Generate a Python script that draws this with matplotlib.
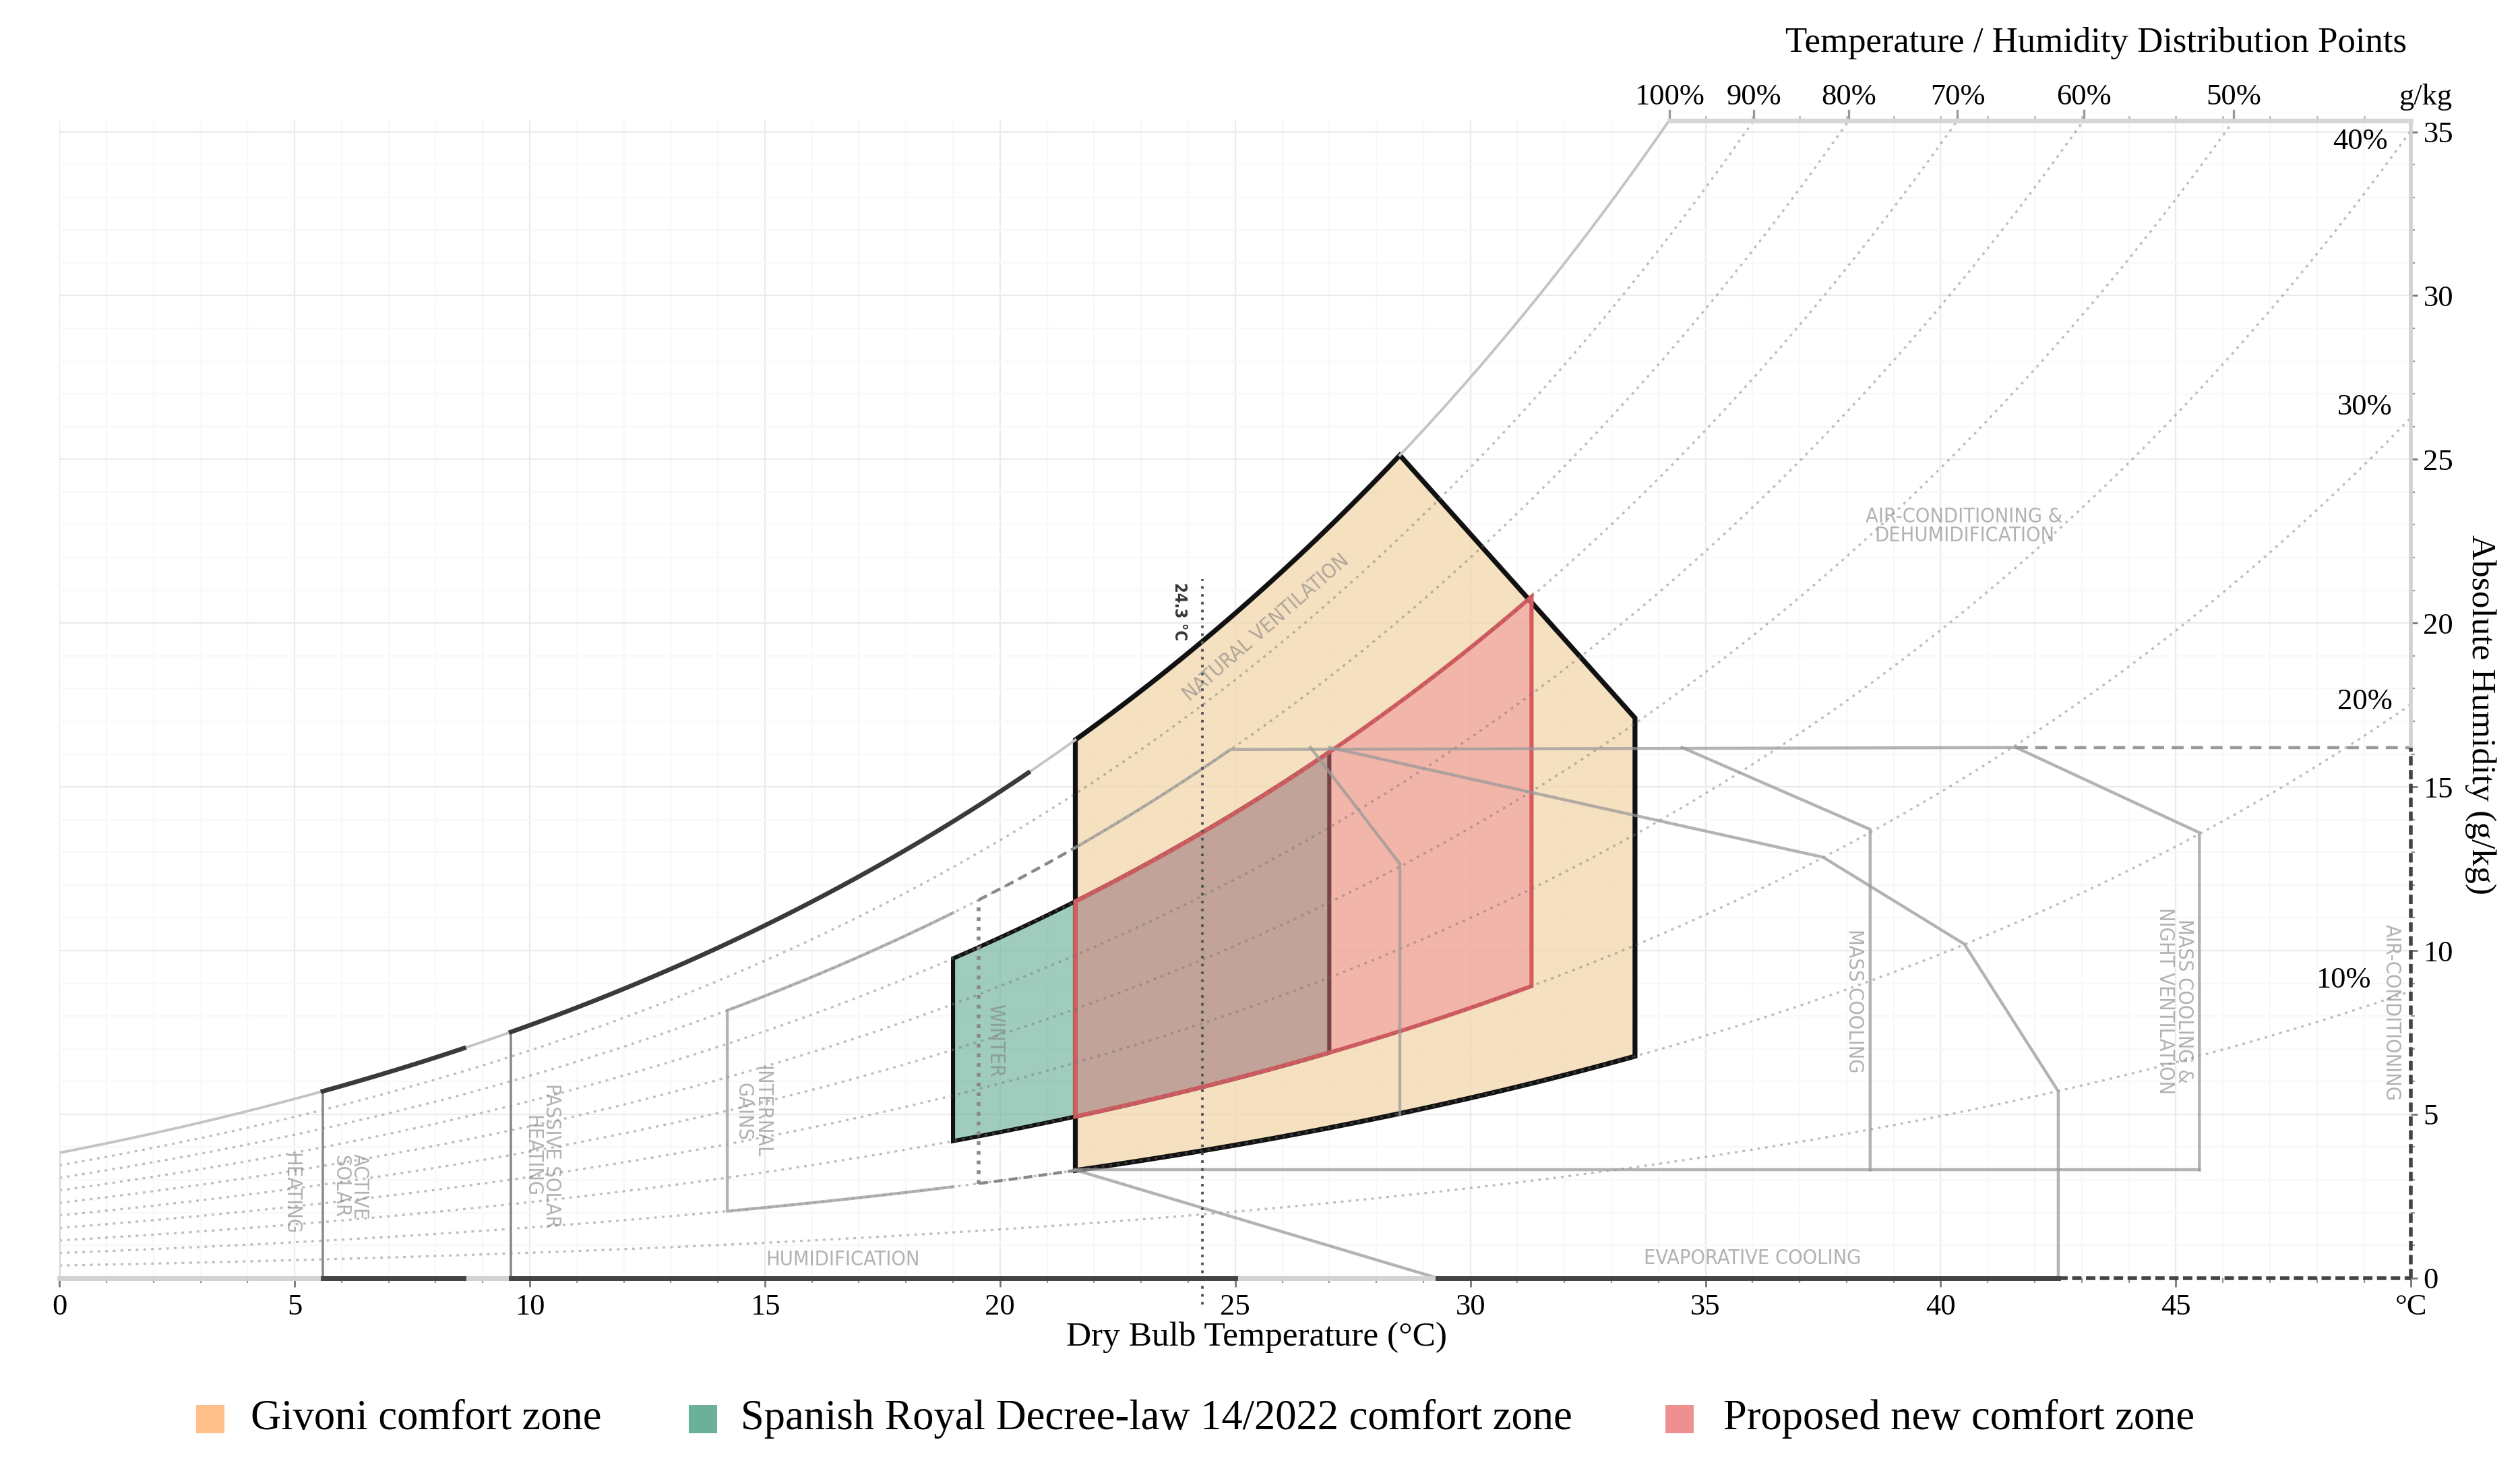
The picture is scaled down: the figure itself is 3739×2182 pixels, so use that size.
import numpy as np
import matplotlib.pyplot as plt
from matplotlib import font_manager
from matplotlib.patches import Polygon, Rectangle

# --- chart data -------------------------------------------------------------
PRESSURE = 1000.0          # hPa, used by the psychrometric scale
Y_TOP = 35.35

X_TICKS = [0, 5, 10, 15, 20, 25, 30, 35, 40, 45]
Y_TICKS = [0, 5, 10, 15, 20, 25, 30, 35]

RH_LINES = [10, 20, 30, 40, 50, 60, 70, 80, 90]
TOP_RH_LABELS = [100, 90, 80, 70, 60, 50]
SIDE_RH_LABELS = ['40%', '30%', '20%', '10%']
SIDE_RH_T = [49.5, 49.6, 49.6, 49.15]
SIDE_RH_W = [34.7, 26.6, 17.6, 9.1]

# comfort zones (temperature bounds in degC, relative humidity bounds in %)
GIVONI_T = [21.6, 28.5, 33.5]      # left edge, apex on saturation, right edge
GIVONI_RH = [20, 100]
GIVONI_RIGHT_W = 17.1
SPAIN_T = [19.0, 27.0]
SPAIN_RH = [30, 70]
PROPOSED_T = [21.6, 31.3]
PROPOSED_RH = [30, 70]
SETPOINT_T = 24.3
SETPOINT_W = [-0.8, 21.35]

# design strategy outlines
ACTIVE_SOLAR_T = [5.6, 8.6]
PASSIVE_SOLAR_T = [9.6, 20.6]
INTERNAL_T = [14.2, 19.0]
INTERNAL_DASH_T = [19.55, 21.6]
INTERNAL_RH = [20, 80]
W_CAP = 16.2
W_FLOOR = 3.3
NV_KNEE_T = 24.9
CAP_T = [24.9, 41.6]
CAP_DASH_T = [41.6, 50.0]
FLOOR_T = [21.6, 45.5]
NV_T, NV_W = [26.6, 28.5, 28.5], [16.2, 12.65, 5.0]
EVAP_T, EVAP_W = [27.0, 37.5, 40.5, 42.5, 42.5], [16.2, 12.85, 10.2, 5.7, 0.0]
WETBULB_T, WETBULB_W = [21.6, 29.3], [3.3, 0.0]
MASS_T, MASS_W = [34.5, 38.5, 38.5], [16.2, 13.7, 3.3]
NIGHT_T, NIGHT_W = [41.6, 45.5, 45.5], [16.2, 13.6, 3.3]
AXIS_DARK = [(5.6, 8.6), (9.6, 25.0), (29.3, 42.5)]

ZONE_TEXT = [
    ('HEATING', 4.93, 2.58, 270),
    ('ACTIVE\nSOLAR', 6.18, 2.8, 270),
    ('PASSIVE SOLAR\nHEATING', 10.26, 3.74, 270),
    ('INTERNAL\nGAINS', 14.74, 5.08, 270),
    ('WINTER', 19.89, 7.25, 270),
    ('HUMIDIFICATION', 16.65, 0.57, 0),
    ('EVAPORATIVE COOLING', 36.0, 0.6, 0),
    ('NATURAL VENTILATION', 25.65, 19.85, 41),
    ('AIR-CONDITIONING &\nDEHUMIDIFICATION', 40.5, 22.95, 0),
    ('MASS COOLING', 38.17, 8.46, 270),
    ('MASS COOLING &\nNIGHT VENTILATION', 44.97, 8.46, 270),
    ('AIR-CONDITIONING', 49.58, 8.1, 270),
]

LEGEND_LABELS = ['Givoni comfort zone', 'Spanish Royal Decree-law 14/2022 comfort zone',
                 'Proposed new comfort zone']
LEGEND_COLORS = ['#ffbf88', '#6bb09a', '#ee9090']


def sat_w(t):
    t = np.asarray(t, dtype=float)
    p = 6.112 * np.exp(17.62 * t / (243.12 + t))
    return 622.0 * p / (PRESSURE - p)


def rh_w(t, rh):
    return rh / 100.0 * sat_w(t)


def rh_edge(t0, t1, rh, n=60):
    t = np.linspace(t0, t1, n)
    return list(t), list(rh_w(t, rh))


def t_at_w(w, rh):
    tt = np.linspace(0, 60, 6001)
    return float(np.interp(w, rh_w(tt, rh), tt))


names = {f.name for f in font_manager.fontManager.ttflist}
narrow = 'Liberation Sans Narrow' if 'Liberation Sans Narrow' in names else 'DejaVu Sans'
zone_fs = 11.6 if narrow != 'DejaVu Sans' else 11.0
SERIF = ['Liberation Serif', 'DejaVu Serif']
plt.rcParams['font.family'] = SERIF

fig = plt.figure(figsize=(3739 / 200, 2182 / 200), dpi=200)
ax = fig.add_axes([88.2 / 3739, 1 - 1895.8 / 2182, (3577.3 - 88.2) / 3739, (1895.8 - 178.5) / 2182])
ax.set_xlim(0, 50)
ax.set_ylim(0, Y_TOP)
for s in ax.spines.values():
    s.set_visible(False)

# grid
for v in range(0, 51):
    ax.axvline(v, color='#ebebeb' if v % 5 == 0 else '#f8f8f8', lw=0.8, zorder=0.5)
for v in range(0, 36):
    ax.axhline(v, color='#ebebeb' if v % 5 == 0 else '#f8f8f8', lw=0.8, zorder=0.5)

# relative humidity curves
tt = np.linspace(0, 50, 500)
for rh in RH_LINES:
    ax.plot(tt, rh_w(tt, rh), color='#707070', alpha=0.45, lw=1.2,
            ls=(0, (1.2, 2.2)), zorder=4)
for a, b in [(0, GIVONI_T[0]), (GIVONI_T[1], 50)]:
    t, w = rh_edge(a, b, 100, n=300)
    ax.plot(t, w, color='#c4c4c4', lw=1.4, zorder=4)
for a, b in [ACTIVE_SOLAR_T, PASSIVE_SOLAR_T]:
    t, w = rh_edge(a, b, 100)
    ax.plot(t, w, color='#3a3a3a', lw=2.4, zorder=5)

# comfort zones
gx, gy = rh_edge(GIVONI_T[0], GIVONI_T[1], GIVONI_RH[1])
gx += [GIVONI_T[2], GIVONI_T[2]]
gy += [GIVONI_RIGHT_W, float(rh_w(GIVONI_T[2], GIVONI_RH[0]))]
bx, by = rh_edge(GIVONI_T[2], GIVONI_T[0], GIVONI_RH[0])
ax.add_patch(Polygon(np.column_stack([gx + bx, gy + by]), closed=True,
                     facecolor='#f2d5a8', alpha=0.72, edgecolor='none', zorder=1))
ax.add_patch(Polygon(np.column_stack([gx + bx, gy + by]), closed=True,
                     facecolor='none', edgecolor='#111111', lw=2.6, zorder=1.1))


def box_zone(trange, rhrange):
    x1, y1 = rh_edge(trange[0], trange[1], rhrange[0])
    x2, y2 = rh_edge(trange[1], trange[0], rhrange[1])
    return np.column_stack([x1 + x2, y1 + y2])


ax.add_patch(Polygon(box_zone(SPAIN_T, SPAIN_RH), closed=True, facecolor='#5fab91',
                     alpha=0.6, edgecolor='none', zorder=2))
ax.add_patch(Polygon(box_zone(SPAIN_T, SPAIN_RH), closed=True, facecolor='none',
                     edgecolor='#111111', lw=2.2, zorder=2.1))
ax.add_patch(Polygon(box_zone(PROPOSED_T, PROPOSED_RH), closed=True, facecolor='#f0818d',
                     alpha=0.45, edgecolor='none', zorder=3))
ax.add_patch(Polygon(box_zone(PROPOSED_T, PROPOSED_RH), closed=True, facecolor='none',
                     edgecolor='#d65a5e', lw=2.2, zorder=3.1))

# strategy outlines
gray = dict(color='#9a9a9a', alpha=0.75, lw=1.6, zorder=4.5)
ax.plot([0, 0], [0, float(sat_w(0))], color='#d4d4d4', lw=1.0, zorder=4)
for t in [ACTIVE_SOLAR_T[0], PASSIVE_SOLAR_T[0]]:
    ax.plot([t, t], [0, float(sat_w(t))], color='#8a8a8a', lw=1.3, zorder=4.5)
x1, y1 = rh_edge(INTERNAL_T[0], INTERNAL_T[1], INTERNAL_RH[1])
x2, y2 = rh_edge(INTERNAL_T[0], INTERNAL_T[1], INTERNAL_RH[0])
ax.plot(x1[::-1] + x2, y1[::-1] + y2, **gray)
for rh in INTERNAL_RH:
    t, w = rh_edge(INTERNAL_DASH_T[0], INTERNAL_DASH_T[1], rh)
    ax.plot(t, w, color='#888888', lw=1.6, ls=(0, (3, 2)), zorder=4.5)
ax.plot([INTERNAL_DASH_T[0]] * 2,
        [float(rh_w(INTERNAL_DASH_T[0], INTERNAL_RH[0])), float(rh_w(INTERNAL_DASH_T[0], INTERNAL_RH[1]))],
        color='#888888', lw=2.0, ls=(0, (1, 1.6)), zorder=4.5)
t, w = rh_edge(GIVONI_T[0], NV_KNEE_T, INTERNAL_RH[1])
ax.plot(t + CAP_T[1:], w + [W_CAP], **gray)
ax.plot(CAP_DASH_T, [W_CAP, W_CAP], color='#999999', lw=1.6, ls=(0, (4, 2.5)), zorder=4.5)
ax.plot(FLOOR_T, [W_FLOOR, W_FLOOR], **gray)
for xs, ys in [(NV_T, NV_W), (EVAP_T, EVAP_W), (WETBULB_T, WETBULB_W),
               (MASS_T, MASS_W), (NIGHT_T, NIGHT_W)]:
    ax.plot(xs, ys, **gray)

# set-point line
ax.plot([SETPOINT_T] * 2, SETPOINT_W, color='#555555', lw=1.4, ls=(0, (1, 2)),
        zorder=4.6, clip_on=False)
ax.text(23.82, 20.35, '24.3 °C', rotation=270, ha='center', va='center', fontsize=8.5,
        fontweight='bold', color='#333333', family=[narrow, 'DejaVu Sans'],
        fontstretch='condensed', zorder=6)

# frame lines
ax.plot([0, 42.5], [0, 0], color='#d2d2d2', lw=2.5, zorder=5, clip_on=False)
for a, b in AXIS_DARK:
    ax.plot([a, b], [0, 0], color='#444444', lw=2.5, zorder=5.1, clip_on=False)
ax.plot([42.5, 50], [0, 0], color='#444444', lw=2.0, ls=(0, (2.5, 1.2)), zorder=5.1, clip_on=False)
ax.plot([50, 50], [0, W_CAP], color='#444444', lw=2.0, ls=(0, (2.5, 1.2)), zorder=5.1, clip_on=False)
ax.plot([50, 50], [W_CAP, Y_TOP], color='#d2d2d2', lw=2.0, zorder=5, clip_on=False)
t100 = t_at_w(Y_TOP, 100)
ax.plot([t100, 50], [Y_TOP, Y_TOP], color='#d6d6d6', lw=2.5, zorder=5, clip_on=False)
for v in range(35, 50):
    ax.plot([v, v], [Y_TOP, Y_TOP + 0.12], color='#bdbdbd', lw=1, clip_on=False)
for rh in TOP_RH_LABELS:
    tx = t_at_w(Y_TOP, rh)
    ax.plot([tx, tx], [Y_TOP, Y_TOP + 0.3], color='#999999', lw=1.2, clip_on=False)
    ax.text(tx, 36.05, f'{rh}%', ha='center', va='center', fontsize=16)
ax.text(50.3, 36.05, 'g/kg', ha='center', va='center', fontsize=16)
for lab, tx, wy in zip(SIDE_RH_LABELS, SIDE_RH_T, SIDE_RH_W):
    ax.text(tx, wy, lab, ha='right', va='center', fontsize=16)

# ticks
ax.set_xticks(X_TICKS + [50])
ax.set_xticklabels([str(v) for v in X_TICKS] + ['°C'], fontsize=16)
ax.set_xticks(range(0, 51), minor=True)
ax.yaxis.tick_right()
ax.set_yticks(Y_TICKS)
ax.set_yticklabels([str(v) for v in Y_TICKS], fontsize=16)
ax.set_yticks(range(0, 36), minor=True)
ax.tick_params(axis='x', which='major', length=4.5, width=1, color='#777777', pad=4)
ax.tick_params(axis='x', which='minor', length=2.5, width=0.8, color='#999999')
ax.tick_params(axis='y', which='major', length=3.5, width=1, color='#777777', pad=3)
ax.tick_params(axis='y', which='minor', length=2, width=0.8, color='#999999')

ax.text(25.46, -1.82, 'Dry Bulb Temperature (°C)', ha='center', va='center', fontsize=18.5)
ax.text(51.47, 17.2, 'Absolute Humidity (g/kg)', ha='center', va='center', rotation=270,
        fontsize=18.5)
ax.text(43.3, 37.7, 'Temperature / Humidity Distribution Points', ha='center', va='center',
        fontsize=19)

for lab, tx, wy, rot in ZONE_TEXT:
    ax.text(tx, wy, lab, ha='center', va='center', rotation=rot, rotation_mode='anchor',
            fontsize=zone_fs, color='#7f7f7f', alpha=0.6, family=[narrow, 'DejaVu Sans'],
            fontstretch='condensed', linespacing=0.95, zorder=6)

# legend
for lab, col, mx, tx in zip(LEGEND_LABELS, LEGEND_COLORS, [312, 1043, 2492], [372, 1099, 2557]):
    fig.patches.append(Rectangle(((mx - 21) / 3739, (2182 - 2105 - 21) / 2182), 42 / 3739, 42 / 2182,
                                 transform=fig.transFigure, facecolor=col, edgecolor='none'))
    fig.text(tx / 3739, (2182 - 2105) / 2182, lab, ha='left', va='center', fontsize=22.5)

fig.savefig('out.png', dpi=200, facecolor='white')
